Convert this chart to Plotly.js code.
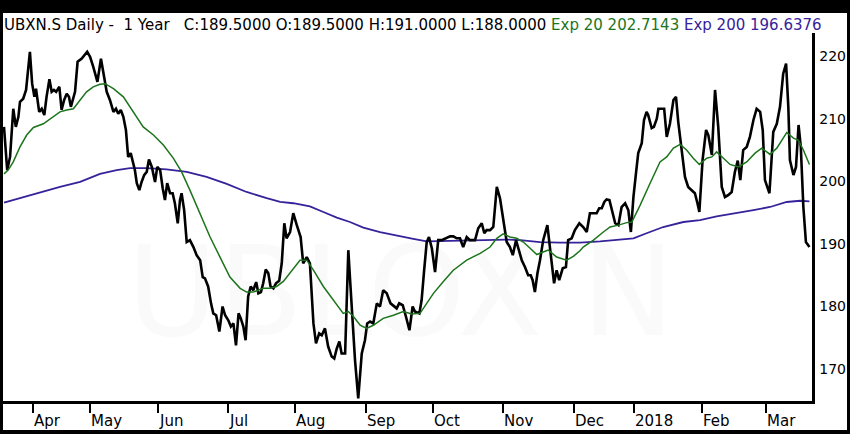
<!DOCTYPE html>
<html>
<head>
<meta charset="utf-8">
<script src="https://cdn.plot.ly/plotly-3.0.1.min.js"></script>
<style>
  html, body { margin: 0; padding: 0; background: #000; width: 850px; height: 434px; overflow: hidden; }
  #chart { position: absolute; left: 3px; top: 13px; width: 844px; height: 417px; background: #fff; }
</style>
</head>
<body>
<div id="chart"></div>
<script>
// ---- Data (x = trading-day index, y = price in CHF) ----
const closeX = [0.0,1.0,1.9,2.9,3.7,4.5,5.0,6.0,6.9,8.1,8.8,9.5,10.0,11.0,11.8,12.6,13.3,14.2,14.9,15.6,16.3,17.3,18.0,18.8,19.6,20.3,20.9,21.5,22.2,23.0,24.3,26.0,26.9,27.9,29.2,30.3,31.0,32.1,33.1,34.2,35.0,35.7,36.5,37.3,38.1,38.8,39.6,40.4,40.9,41.5,42.3,43.0,43.8,44.6,45.3,46.2,47.2,47.9,48.8,49.6,50.3,51.0,51.9,52.7,53.4,54.3,55.0,55.5,56.3,57.1,58.1,59.2,60.2,61.3,62.1,62.8,63.8,64.7,65.4,66.3,67.3,68.3,69.1,70.1,70.9,71.7,72.5,73.3,74.0,74.8,75.5,76.3,77.1,77.9,78.8,79.5,80.3,81.0,81.8,82.6,83.3,84.2,85.0,86.0,86.8,87.6,88.3,89.4,90.4,91.5,92.7,93.5,94.6,95.6,96.7,97.5,98.5,99.3,100.3,101.3,102.4,103.2,104.0,104.8,105.5,106.6,107.6,108.1,109.0,109.7,110.7,111.8,112.8,113.5,114.4,115.4,116.5,117.5,118.5,119.6,120.8,121.9,122.7,123.5,124.6,125.6,126.7,127.7,128.4,129.8,130.5,131.3,132.1,132.8,133.7,134.7,135.7,136.8,138.3,139.4,140.4,141.5,142.5,143.5,144.6,145.6,147.2,148.2,149.3,150.1,150.8,151.9,152.9,154.0,155.0,156.0,157.1,158.1,159.0,160.0,161.0,161.8,162.8,163.8,164.6,165.2,165.9,166.7,167.5,168.5,169.8,170.6,171.9,172.7,173.5,174.6,175.6,176.3,177.4,178.4,179.8,181.0,182.1,183.1,184.2,185.2,186.0,186.8,187.6,188.3,189.2,189.9,191.0,192.0,193.0,194.1,195.1,195.9,196.7,197.5,198.2,199.3,200.0,200.8,201.3,202.4,203.1,204.0,204.5,205.5,206.3,207.1,208.1,209.2,210.0,210.7,211.8,212.8,213.8,214.9,215.9,216.7,217.3,218.3,219.4,220.1,221.2,222.2,223.2,224.3,225.3,226.3,227.4,228.4,229.3,230.1,231.0,232.1,233.1,234.2,235.2,236.3,237.1,237.8,239.2,240.4,241.5,242.5,243.5,244.4,245.1,245.6,246.7,247.5,248.3,249.0,249.8,250.6,251.7];
const closeY = [208.7,201.8,203.9,211.6,208.7,210.3,212.7,213.2,214.6,220.7,215.6,213.5,214.8,211.1,211.6,210.6,213.5,216.3,214.3,214.6,214.3,215.1,211.4,213.0,214.0,213.5,211.9,213.0,214.3,219.1,219.6,220.7,219.9,218.3,215.9,219.6,217.5,214.3,213.0,211.1,211.6,210.8,211.4,210.3,208.2,203.9,204.5,203.1,201.8,199.7,198.6,199.9,201.0,201.5,203.5,202.3,199.9,202.3,201.8,198.9,197.0,199.7,198.1,198.1,196.5,193.3,197.0,198.1,195.4,190.3,190.6,189.5,188.2,187.4,184.7,184.5,183.2,180.5,178.9,178.6,176.0,180.0,178.6,177.8,176.8,177.3,173.8,178.9,178.1,176.8,174.6,181.6,183.2,182.6,183.9,182.1,182.3,183.7,185.9,185.3,183.2,182.9,183.7,184.1,186.9,193.3,190.9,191.9,194.9,193.0,191.1,186.9,187.9,186.9,177.3,174.1,175.7,175.4,176.5,173.6,172.0,171.7,173.3,174.4,172.5,172.5,189.0,184.7,176.2,171.4,165.3,172.5,174.6,177.3,177.6,177.3,180.5,180.0,182.6,182.1,180.5,180.0,179.7,180.5,180.2,178.4,176.2,180.0,179.2,178.9,181.0,185.8,190.3,191.1,189.3,185.5,190.6,190.6,191.0,191.2,191.2,190.9,190.9,189.5,191.1,190.6,190.6,192.5,193.3,191.7,192.2,192.2,192.7,199.1,197.3,194.1,190.3,189.5,188.2,190.6,188.7,187.4,186.3,185.0,185.0,184.2,182.3,185.3,187.4,190.6,193.0,189.5,183.7,185.8,184.2,186.1,186.3,190.6,190.9,192.2,193.3,192.7,191.9,194.9,194.9,194.9,195.7,195.7,196.7,197.1,197.0,195.7,193.3,193.0,195.9,196.5,195.4,191.9,197.5,201.3,204.5,206.1,209.8,211.1,210.6,208.5,208.7,210.0,211.6,211.6,211.6,207.1,209.2,213.0,213.5,209.5,204.5,200.7,199.1,198.6,198.1,196.5,195.1,203.4,208.2,207.4,204.2,214.6,208.7,199.1,197.5,197.8,198.3,201.5,203.3,200.2,205.0,205.5,207.1,209.8,211.6,211.1,208.2,200.2,198.1,207.9,209.2,211.9,217.2,218.8,211.9,203.4,201.0,202.3,209.0,205.5,195.9,190.3,189.5];

const ema20X = [0.0,1.3,2.9,5.0,7.1,9.2,12.3,14.4,17.5,19.6,21.7,23.8,25.8,27.9,30.0,31.6,34.2,37.3,40.4,43.5,46.7,49.8,52.9,55.5,58.1,61.3,64.4,67.5,70.6,73.8,75.8,77.9,81.0,83.1,85.2,87.3,89.4,92.5,94.6,96.7,99.8,102.9,106.0,107.6,109.2,111.3,113.3,115.4,118.5,121.7,124.8,127.4,130.0,132.1,134.2,137.3,140.4,144.6,148.8,151.9,154.0,156.0,158.1,160.2,162.3,164.4,166.5,168.5,170.1,172.7,175.8,177.9,180.0,181.0,184.2,187.3,189.4,192.0,194.6,196.2,198.8,201.9,205.0,207.1,209.2,211.3,213.3,215.4,217.3,219.6,221.2,222.7,224.8,226.9,229.5,232.1,234.7,236.8,239.4,241.5,244.6,246.7,248.2,249.8,251.7];
const ema20Y = [201.2,201.8,203.1,205.5,207.4,208.6,209.2,210.0,211.1,211.4,211.6,213.0,214.3,215.1,215.5,215.6,214.8,213.5,211.1,208.7,207.4,205.8,203.7,201.5,198.6,194.9,191.1,187.9,184.7,182.9,182.3,182.3,182.9,182.9,183.2,184.0,185.4,187.4,187.4,185.8,183.2,181.0,178.9,179.2,178.4,177.0,176.5,177.0,178.1,178.6,179.2,178.8,178.9,180.5,182.1,184.0,185.8,187.4,188.5,189.5,190.9,191.6,191.1,190.9,190.3,189.3,188.3,188.7,189.0,187.9,187.4,188.0,188.9,189.5,190.6,191.9,192.7,193.0,193.4,193.5,196.2,199.7,203.1,203.9,205.3,205.9,205.0,203.7,202.7,203.7,203.9,204.7,203.7,202.7,202.3,203.1,204.5,205.3,204.3,205.3,207.8,206.9,206.6,205.0,202.7];

const ema200X = [0.0,5.0,11.3,17.5,23.8,30.0,35.2,39.4,44.6,50.8,57.1,63.3,69.6,75.8,82.1,86.3,90.4,95.6,99.8,104.0,108.1,112.3,117.5,122.7,127.9,132.1,138.3,144.6,150.8,157.1,161.3,167.5,173.8,180.0,186.3,192.5,196.7,200.8,206.0,212.3,217.5,222.7,229.0,234.2,239.4,244.6,248.8,251.7];
const ema200Y = [196.6,197.3,198.3,199.1,199.9,201.2,201.8,202.1,202.1,201.9,201.5,200.7,199.6,198.3,197.3,196.7,196.5,196.0,195.1,194.2,193.5,192.6,191.9,191.3,190.8,190.4,190.5,190.6,190.7,190.7,190.6,190.3,190.2,190.2,190.4,190.7,190.9,191.7,192.7,193.5,193.8,194.4,194.9,195.4,195.9,196.7,196.9,196.8];

const monthTickIdx = [9, 27, 48, 70, 91, 113, 134, 156, 178, 197, 218, 238];
const monthLabels = ['Apr','May','Jun','Jul','Aug','Sep','Oct','Nov','Dec','2018','Feb','Mar'];
const priceTicks = [170, 180, 190, 200, 210, 220];

const headerTitle = 'UBXN.S Daily -&nbsp; 1 Year&nbsp;&nbsp;';
const ohlc = {C: '189.5000', O: '189.5000', H: '191.0000', L: '188.0000'};
const ema20Last = '202.7143';
const ema200Last = '196.6376';
const watermark = 'UBLOX N';

const FONT = 'DejaVu Sans, Verdana, sans-serif';
const GREEN = '#1c741c';
const INDIGO = '#36229a';

const traces = [
  { // faint watermark behind the lines
    x: [124], y: [180.4], mode: 'text', text: [watermark],
    textposition: 'middle center',
    textfont: {family: FONT, size: 124, color: '#fafafa'},
    hoverinfo: 'skip', showlegend: false
  },
  { x: ema200X, y: ema200Y, mode: 'lines', line: {color: INDIGO, width: 1.8}, showlegend: false },
  { x: closeX, y: closeY, mode: 'lines', line: {color: '#000', width: 2.6}, showlegend: false },
  { x: ema20X, y: ema20Y, mode: 'lines', line: {color: GREEN, width: 1.5}, showlegend: false }
];

const header = headerTitle + ' C:' + ohlc.C + ' O:' + ohlc.O + ' H:' + ohlc.H + ' L:' + ohlc.L +
  ' <span style="color:' + GREEN + '">Exp 20 ' + ema20Last + '</span>' +
  ' <span style="color:' + INDIGO + '">Exp 200 ' + ema200Last + '</span>';

const annotations = [{
  text: header, xref: 'paper', yref: 'paper', x: 0, y: 1, xanchor: 'left', yanchor: 'middle',
  yshift: 8, xshift: -1, showarrow: false, font: {family: FONT, size: 15, color: '#000'}
}];
monthTickIdx.forEach((t, i) => annotations.push({
  text: monthLabels[i], xref: 'x', yref: 'paper', x: t, y: 0, xanchor: 'left', yanchor: 'middle',
  yshift: -20, xshift: -1, showarrow: false, font: {family: FONT, size: 15, color: '#000'}
}));

const layout = {
  width: 844, height: 417,
  margin: {l: 0, r: 35, t: 20, b: 29},
  paper_bgcolor: '#fff', plot_bgcolor: '#fff',
  showlegend: false,
  xaxis: {
    range: [-0.31, 252.5], showgrid: false, zeroline: false,
    showline: true, linecolor: '#000', linewidth: 2.5,
    tickmode: 'array', tickvals: monthTickIdx, ticktext: monthLabels,
    showticklabels: false, ticks: 'outside', ticklen: 9, tickwidth: 2, tickcolor: '#000'
  },
  yaxis: {
    side: 'right', range: [164.9, 223.7], showgrid: false, zeroline: false,
    showline: true, linecolor: '#000', linewidth: 2.5,
    tickmode: 'array', tickvals: priceTicks, ticks: '', ticklabelstandoff: 2,
    tickfont: {family: FONT, size: 14, color: '#000'}
  },
  annotations: annotations
};

Plotly.newPlot('chart', traces, layout, {staticPlot: true, displayModeBar: false});
</script>
</body>
</html>
